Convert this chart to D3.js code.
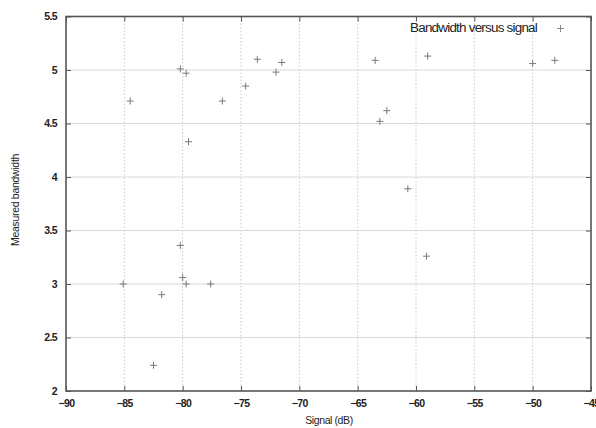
<!DOCTYPE html>
<html>
<head>
<meta charset="utf-8">
<script src="https://cdn.jsdelivr.net/npm/d3@7/dist/d3.min.js"></script>
<style>
  html, body { margin: 0; padding: 0; background: #fff; }
  svg { display: block; }
  text { font-family: "Liberation Sans", Arial, sans-serif; fill: #222; }
</style>
</head>
<body>
<svg id="chart" width="596" height="428"></svg>
<script>
// Measured bandwidth against received signal level
const signalDb = [
  -85.1, -84.5, -80.2, -79.7, -79.5, -76.6, -74.6, -73.6, -72.0, -71.5,
  -80.2, -80.0, -79.7, -77.6, -81.8, -82.5,
  -63.5, -59.0, -62.5, -63.1, -60.7, -59.1, -50.0, -48.1
];
const bandwidth = [
  3.00, 4.71, 5.01, 4.97, 4.33, 4.71, 4.85, 5.10, 4.98, 5.07,
  3.36, 3.06, 3.00, 3.00, 2.90, 2.24,
  5.09, 5.13, 4.62, 4.52, 3.89, 3.26, 5.06, 5.09
];
const xTicks = [-90, -85, -80, -75, -70, -65, -60, -55, -50, -45];
const yTicks = [2, 2.5, 3, 3.5, 4, 4.5, 5, 5.5];
const seriesName = "Bandwidth versus signal";

const svg = d3.select("#chart");
const plotLeft = 66, plotRight = 591, plotTop = 16.5, plotBottom = 391;

const x = d3.scaleLinear().domain([-90, -45]).range([plotLeft, plotRight]);
const y = d3.scaleLinear().domain([2, 5.5]).range([plotBottom, plotTop]);

// grid: dotted verticals, solid horizontals
svg.append("g").selectAll("line").data(xTicks.slice(1, -1)).join("line")
  .attr("x1", d => x(d)).attr("x2", d => x(d))
  .attr("y1", plotTop).attr("y2", plotBottom)
  .attr("stroke", "#c8c8c8").attr("stroke-width", 1)
  .attr("stroke-dasharray", "1.5,2");
svg.append("g").selectAll("line").data(yTicks.slice(1, -1)).join("line")
  .attr("x1", plotLeft).attr("x2", plotRight)
  .attr("y1", d => y(d)).attr("y2", d => y(d))
  .attr("stroke", "#d8d8d8").attr("stroke-width", 1);

// axes with inward ticks
const fmt = d3.format("");
const xAxis = d3.axisBottom(x).tickValues(xTicks).tickFormat(fmt).tickSizeInner(-5).tickSizeOuter(0).tickPadding(9);
const yAxis = d3.axisLeft(y).tickValues(yTicks).tickFormat(fmt).tickSizeInner(-5).tickSizeOuter(0).tickPadding(9);
const xAxisTop = d3.axisTop(x).tickValues(xTicks).tickFormat("").tickSizeInner(-5).tickSizeOuter(0);
const yAxisRight = d3.axisRight(y).tickValues(yTicks).tickFormat("").tickSizeInner(-5).tickSizeOuter(0);

function styleAxis(g) {
  g.select(".domain").remove();
  g.selectAll(".tick line").attr("stroke", "#555").attr("stroke-width", 1);
  g.selectAll(".tick text")
    .attr("font-size", 10.5).attr("font-weight", "bold")
    .attr("letter-spacing", "-0.6px").attr("fill", "#333");
}
svg.append("g").attr("transform", `translate(0,${plotBottom})`).call(xAxis).call(styleAxis);
svg.append("g").attr("transform", `translate(${plotLeft},0)`).call(yAxis).call(styleAxis);
svg.append("g").attr("transform", `translate(0,${plotTop})`).call(xAxisTop).call(styleAxis);
svg.append("g").attr("transform", `translate(${plotRight},0)`).call(yAxisRight).call(styleAxis);

// frame
svg.append("rect")
  .attr("x", plotLeft).attr("y", plotTop)
  .attr("width", plotRight - plotLeft).attr("height", plotBottom - plotTop)
  .attr("fill", "none").attr("stroke", "#555").attr("stroke-width", 1.6);

// plus markers
const pts = d3.zip(signalDb, bandwidth);
svg.append("g").selectAll("path").data(pts).join("path")
  .attr("d", d => `M${x(d[0]) - 3.5},${y(d[1])}h7M${x(d[0])},${y(d[1]) - 3.5}v7`)
  .attr("stroke", "#7a7a7a").attr("stroke-width", 1).attr("fill", "none");

// legend
const lg = svg.append("g");
lg.append("text").attr("x", 410).attr("y", 31.5)
  .attr("font-size", 12).attr("letter-spacing", "-0.7px")
  .attr("textLength", 127).attr("lengthAdjust", "spacingAndGlyphs")
  .attr("fill", "#222")
  .text(seriesName);
lg.append("path")
  .attr("d", "M557,28.5h7M560.5,25v7")
  .attr("stroke", "#888").attr("stroke-width", 1);

// axis titles
svg.append("text").attr("x", 329).attr("y", 424).attr("text-anchor", "middle")
  .attr("font-size", 10.5).attr("letter-spacing", "-0.4px").text("Signal (dB)");
svg.append("text").attr("transform", "translate(19,200) rotate(-90)")
  .attr("text-anchor", "middle").attr("font-size", 10.5).attr("letter-spacing", "-0.3px")
  .text("Measured bandwidth");
</script>
</body>
</html>
